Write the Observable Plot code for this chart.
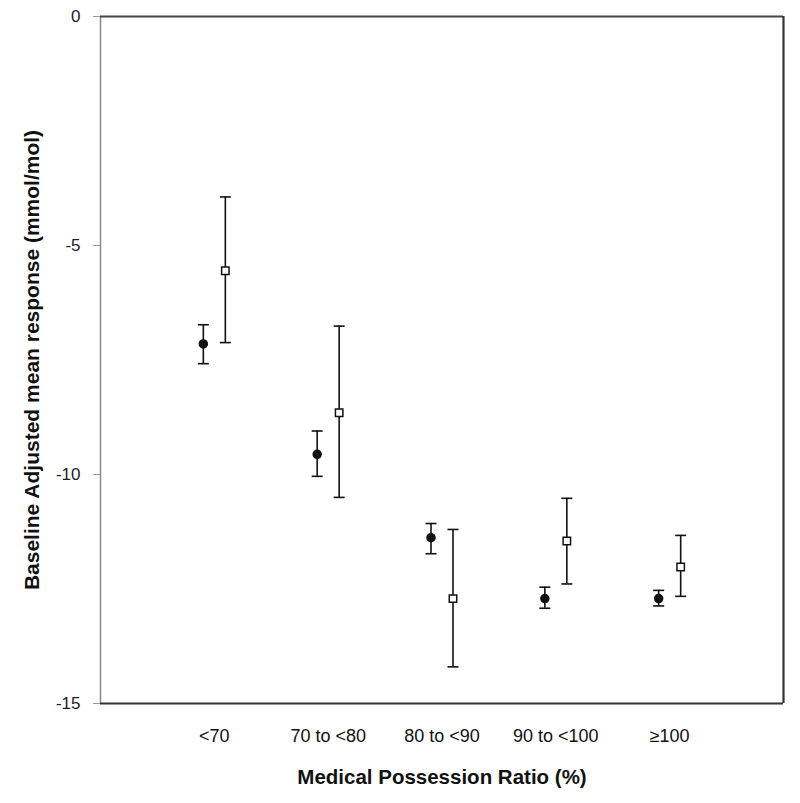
<!DOCTYPE html>
<html>
<head>
<meta charset="utf-8">
<script src="https://cdn.jsdelivr.net/npm/d3@7"></script>
<script src="https://cdn.jsdelivr.net/npm/@observablehq/plot@0.6"></script>
<style>
  html, body { margin: 0; padding: 0; background: #fff; }
  #chart svg { display: block; }
</style>
</head>
<body>
<div id="chart"></div>
<script>
// ---- data ----
const categories = ["<70", "70 to <80", "80 to <90", "90 to <100", "\u2265100"];
const yTicks = [0, -5, -10, -15];
const yLabel = "Baseline Adjusted mean response (mmol/mol)";
const xLabel = "Medical Possession Ratio (%)";

// series A (filled circles)
const aMean  = [-7.15, -9.56, -11.38, -12.71, -12.71];
const aUpper = [-6.73, -9.05, -11.07, -12.46, -12.53];
const aLower = [-7.58, -10.04, -11.73, -12.92, -12.87];
// series B (open squares)
const bMean  = [-5.55, -8.65, -12.71, -11.45, -12.02];
const bUpper = [-3.94, -6.76, -11.20, -10.52, -11.33];
const bLower = [-7.12, -10.50, -14.20, -12.39, -12.66];

const rows = (mean, up, lo) => categories.map((c, i) => ({x: i + 1, cat: c, mean: mean[i], upper: up[i], lower: lo[i]}));
const A = rows(aMean, aUpper, aLower);
const B = rows(bMean, bUpper, bLower);

// horizontal-line symbol for error-bar caps
const capSymbol = {
  draw(context, size) {
    const r = Math.sqrt(size / Math.PI);
    context.moveTo(-r, 0);
    context.lineTo(r, 0);
  }
};

const offA = -11, offB = 11;
const ink = "#111";

function bars(data, dx) {
  return [
    Plot.ruleX(data, {x: "x", y1: "lower", y2: "upper", dx, stroke: ink, strokeWidth: 1.6}),
    Plot.dot(data, {x: "x", y: "upper", dx, symbol: capSymbol, r: 5.5, stroke: ink, strokeWidth: 1.6}),
    Plot.dot(data, {x: "x", y: "lower", dx, symbol: capSymbol, r: 5.5, stroke: ink, strokeWidth: 1.6})
  ];
}

const chart = Plot.plot({
  width: 800,
  height: 803,
  marginLeft: 100,
  marginRight: 17,
  marginTop: 16,
  marginBottom: 100,
  style: {fontFamily: "'Liberation Sans', Arial, sans-serif", background: "#fff"},
  x: {type: "linear", domain: [0, 6], axis: null},
  y: {domain: [-15, 0], axis: null},
  marks: [
    // y axis ticks + labels
    Plot.axisY({ticks: yTicks, tickSize: 7, tickPadding: 13, stroke: "#999", fontSize: 17, color: "#222", label: null, tickFormat: d => d}),
    // x tick labels
    Plot.axisX({ticks: categories.map((c, i) => i + 1), tickFormat: d => categories[d - 1], tickSize: 0, tickPadding: 26, fontSize: 18, color: "#111", label: null}),
    // frame: left/top gray, right/bottom dark
    Plot.ruleX([0], {stroke: "#8a8a8a", strokeWidth: 1.5}),
    Plot.ruleY([0], {stroke: "#444", strokeWidth: 1.8}),
    Plot.ruleX([6], {stroke: "#333", strokeWidth: 2.2}),
    Plot.ruleY([-15], {stroke: "#333", strokeWidth: 2.2}),
    ...bars(A, offA),
    ...bars(B, offB),
    Plot.dot(A, {x: "x", y: "mean", dx: offA, r: 4, fill: ink, stroke: ink}),
    Plot.dot(B, {x: "x", y: "mean", dx: offB, symbol: "square", r: 4.2, fill: "#fff", stroke: ink, strokeWidth: 1.5}),
    // axis titles
    Plot.text([yLabel], {frameAnchor: "left", dx: -68, rotate: -90, textAnchor: "middle", lineAnchor: "middle", fontSize: 21, fontWeight: "bold", fill: "#111"}),
    Plot.text([xLabel], {frameAnchor: "bottom", dy: 74, textAnchor: "middle", lineAnchor: "middle", fontSize: 20.5, fontWeight: "bold", fill: "#111"})
  ]
});
document.getElementById("chart").appendChild(chart);
</script>
</body>
</html>
